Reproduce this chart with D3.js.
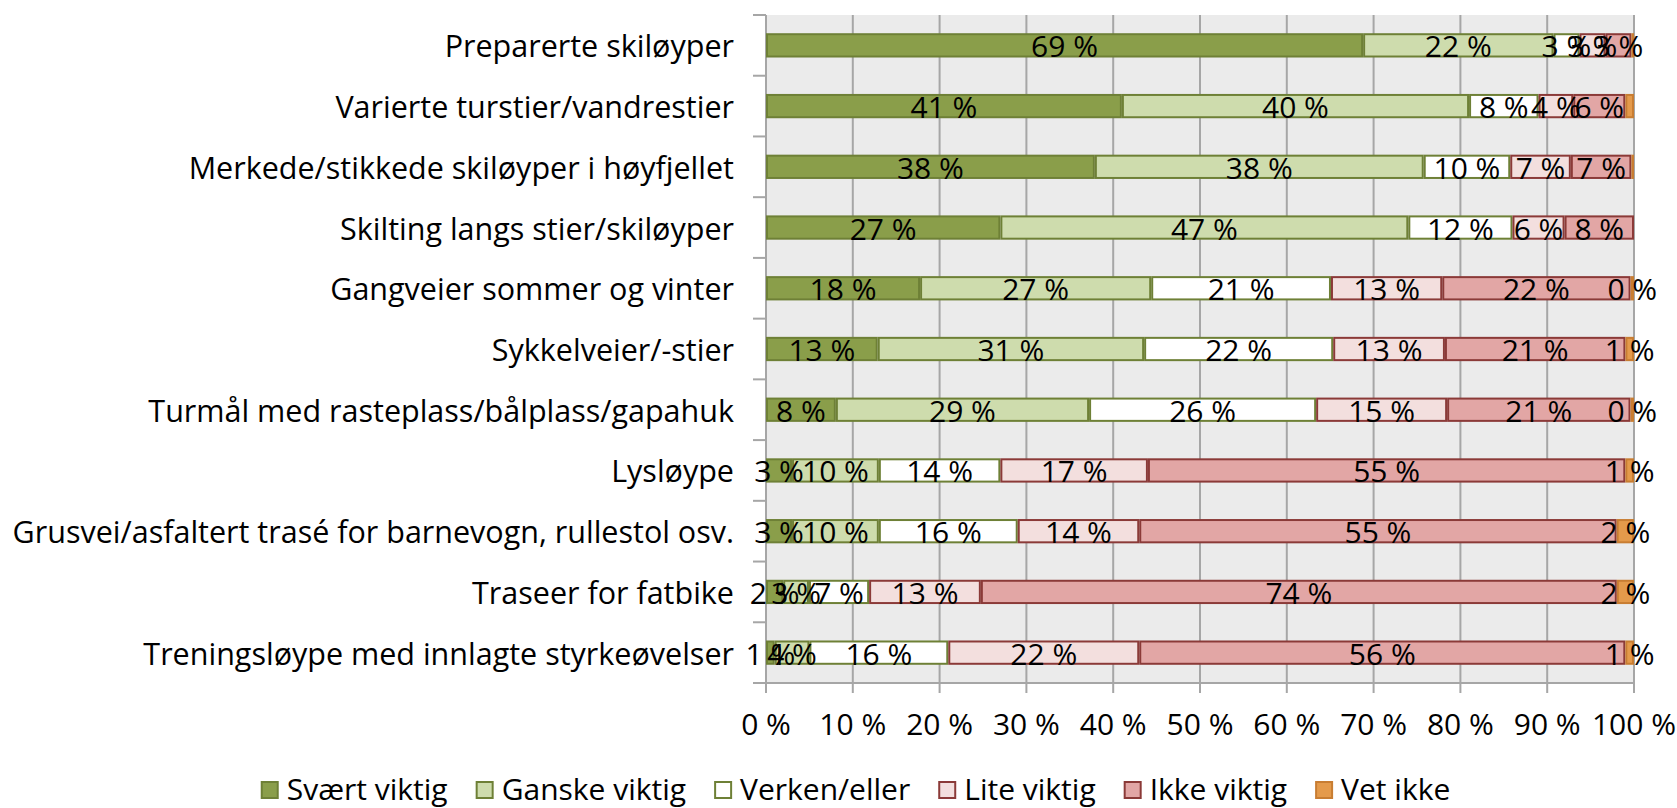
<!DOCTYPE html>
<html>
<head>
<meta charset="utf-8">
<script src="https://cdn.jsdelivr.net/npm/d3@7"></script>
<style>
  html, body { margin: 0; padding: 0; background: #fff; }
  svg { display: block; font-family: "Open Sans", Lato, sans-serif; }
</style>
</head>
<body>
<div id="chart"></div>
<script>
// ── Data ────────────────────────────────────────────────────────────────
const categories = [
  "Preparerte skiløyper",
  "Varierte turstier/vandrestier",
  "Merkede/stikkede skiløyper i høyfjellet",
  "Skilting langs stier/skiløyper",
  "Gangveier sommer og vinter",
  "Sykkelveier/-stier",
  "Turmål med rasteplass/bålplass/gapahuk",
  "Lysløype",
  "Grusvei/asfaltert trasé for barnevogn, rullestol osv.",
  "Traseer for fatbike",
  "Treningsløype med innlagte styrkeøvelser"
];

const seriesNames = ["Svært viktig", "Ganske viktig", "Verken/eller", "Lite viktig", "Ikke viktig", "Vet ikke"];

const svaertViktig = [69, 41, 38, 27, 18, 13,  8,  3,  3,  2,  1];
const ganskeViktig = [22, 40, 38, 47, 27, 31, 29, 10, 10,  3,  4];
const verkenEller  = [ 3,  8, 10, 12, 21, 22, 26, 14, 16,  7, 16];
const liteViktig   = [ 3,  4,  7,  6, 13, 13, 15, 17, 14, 13, 22];
const ikkeViktig   = [ 3,  6,  7,  8, 22, 21, 21, 55, 55, 74, 56];
const vetIkke      = [0.3, 1, 0.3, 0, 0.4, 1, 0.4, 1,  2,  2,  1];
// Excel left some "Vet ikke" labels out
const vetIkkeLabelled = [false, false, false, false, true, true, true, true, true, true, true];

const xTicks = [0, 10, 20, 30, 40, 50, 60, 70, 80, 90, 100];

// ── Styles ──────────────────────────────────────────────────────────────
const fills   = ["#8A9E4A", "#CEDCAD", "#FFFFFF", "#F3DFDE", "#E2A6A5", "#E49A4B"];
const strokes = ["#6E8036", "#6E8036", "#6E8036", "#8B3A38", "#8B3A38", "#C87D32"];

const W = 1677, H = 808;
const FONT = 30;
const plot = { left: 766, right: 1634, top: 15, bottom: 683 };

const svg = d3.select("#chart").append("svg")
  .attr("width", W)
  .attr("height", H);

const x = d3.scaleLinear().domain([0, 100]).range([plot.left, plot.right]);
const y = d3.scaleBand().domain(categories)
  .range([plot.top, plot.bottom])
  .paddingInner(0.6)
  .paddingOuter(0.3);

// ── Stack (100 % normalised, like Excel) ─────────────────────────────────
const seriesValues = [svaertViktig, ganskeViktig, verkenEller, liteViktig, ikkeViktig, vetIkke];
const rows = categories.map((c, i) => {
  const r = { cat: c };
  seriesNames.forEach((s, k) => { r[s] = seriesValues[k][i]; });
  return r;
});
const stacked = d3.stack().keys(seriesNames).offset(d3.stackOffsetExpand)(rows);

// ── Plot background + grid ──────────────────────────────────────────────
svg.append("rect")
  .attr("x", plot.left).attr("y", plot.top)
  .attr("width", plot.right - plot.left)
  .attr("height", plot.bottom - plot.top)
  .attr("fill", "#EBEBEB");

svg.append("g")
  .selectAll("line")
  .data(xTicks)
  .join("line")
    .attr("x1", d => x(d)).attr("x2", d => x(d))
    .attr("y1", plot.top).attr("y2", plot.bottom + 10)
    .attr("stroke", "#A6A6A6")
    .attr("stroke-width", 2);

// bottom axis line
svg.append("line")
  .attr("x1", plot.left - 13).attr("x2", plot.right)
  .attr("y1", plot.bottom).attr("y2", plot.bottom)
  .attr("stroke", "#A6A6A6").attr("stroke-width", 2);

// category ticks at band boundaries
const bounds = categories.map(c => y(c) - y.step() * y.paddingInner() / 2).concat([plot.bottom]);
svg.append("g")
  .selectAll("line")
  .data(bounds)
  .join("line")
    .attr("x1", plot.left - 13).attr("x2", plot.left)
    .attr("y1", d => d).attr("y2", d => d)
    .attr("stroke", "#A6A6A6").attr("stroke-width", 2);

// ── Bars ────────────────────────────────────────────────────────────────
const layers = svg.append("g")
  .selectAll("g")
  .data(stacked)
  .join("g")
    .attr("fill", (d, i) => fills[i])
    .attr("stroke", (d, i) => strokes[i]);

layers.selectAll("rect")
  .data(d => d)
  .join("rect")
    .attr("x", d => x(d[0] * 100) + 1)
    .attr("y", d => y(d.data.cat) + 1)
    .attr("width", d => Math.max(0, x(d[1] * 100) - x(d[0] * 100) - 2))
    .attr("height", y.bandwidth() - 2)
    .attr("stroke-width", 2);

// ── Value labels ────────────────────────────────────────────────────────
const labelG = svg.append("g")
  .attr("font-size", FONT)
  .attr("text-anchor", "middle")
  .attr("fill", "#000");

stacked.forEach((layer, k) => {
  layer.forEach((d, i) => {
    const v = seriesValues[k][i];
    if (k === 5 && !vetIkkeLabelled[i]) return;
    labelG.append("text")
      .attr("x", x((d[0] + d[1]) / 2 * 100))
      .attr("y", y(d.data.cat) + y.bandwidth() / 2 + 12)
      .text(`${Math.round(v)} %`);
  });
});

// ── Category labels ─────────────────────────────────────────────────────
svg.append("g")
  .attr("font-size", FONT + 0.5)
  .attr("text-anchor", "end")
  .selectAll("text")
  .data(categories)
  .join("text")
    .attr("x", 734)
    .attr("y", d => y(d) + y.bandwidth() / 2 + 12)
    .attr("fill", "#000")
    .text(d => d);

// ── X tick labels ───────────────────────────────────────────────────────
svg.append("g")
  .attr("font-size", FONT)
  .attr("text-anchor", "middle")
  .selectAll("text")
  .data(xTicks)
  .join("text")
    .attr("x", d => x(d))
    .attr("y", plot.bottom + 52)
    .attr("fill", "#000")
    .text(d => `${d} %`);

// ── Legend ──────────────────────────────────────────────────────────────
const legend = svg.append("g").attr("font-size", FONT);
const items = legend.selectAll("g")
  .data(seriesNames)
  .join("g");

items.append("rect")
  .attr("x", 0).attr("y", 782)
  .attr("width", 16).attr("height", 16)
  .attr("fill", (d, i) => fills[i])
  .attr("stroke", (d, i) => strokes[i])
  .attr("stroke-width", 2);

items.append("text")
  .attr("x", 25).attr("y", 800)
  .attr("fill", "#000")
  .text(d => d);

const legendGap = 29;
let cursor = 0;
const offsets = [];
items.each(function () {
  offsets.push(cursor);
  cursor += 25 + this.querySelector("text").getComputedTextLength() + legendGap;
});
const legendW = cursor - legendGap;
const legendX = 856 - legendW / 2;
items.attr("transform", (d, i) => `translate(${legendX + offsets[i]},0)`);
</script>
</body>
</html>
